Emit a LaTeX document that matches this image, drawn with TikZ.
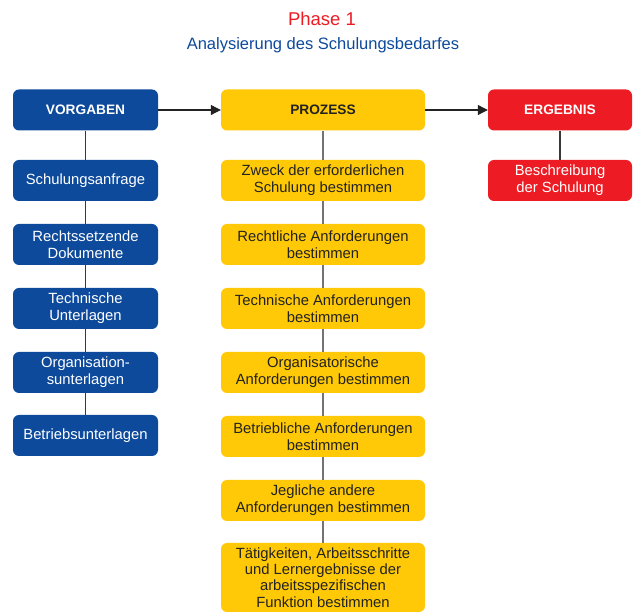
\documentclass[tikz,border=0pt]{standalone}
\usepackage{fontspec}
\setmainfont{Liberation Sans}
\usetikzlibrary{arrows.meta}
\definecolor{vblue}{HTML}{0D4A9C}
\definecolor{vyellow}{HTML}{FFC907}
\definecolor{vred}{HTML}{ED1C24}
\definecolor{vdark}{HTML}{222222}
\begin{document}
\begin{tikzpicture}[x=1pt,y=-1pt,
  box/.style={rounded corners=6pt, inner sep=0pt, align=center, minimum height=41pt,
    font=\fontsize{14.8}{17}\selectfont},
  bluebox/.style={box, fill=vblue, text=white, minimum width=145pt},
  yelbox/.style={box, fill=vyellow, text=vdark, minimum width=204pt},
  redbox/.style={box, fill=vred, text=white, minimum width=144pt},
  head/.style={font=\fontsize{13.7}{16}\selectfont\bfseries},
  link/.style={draw=vdark!90, line width=1.1pt},
  glink/.style={draw=black!55, line width=1.2pt},
  flow/.style={draw=vdark, line width=1.1pt, -{Triangle[length=10pt,width=10pt]}}
]
\path[use as bounding box, clip] (0,0) rectangle (633,612);
\fill[white] (0,0) rectangle (633,612);

\node[text=vred, font=\fontsize{18.5}{22}\selectfont] (t1) at (322,19) {Phase 1};
\node[text=vblue, font=\fontsize{16.5}{19}\selectfont] (t2) at (323,45) {Analysierung des Schulungsbedarfes};

% left column
\node[bluebox, head] (v0) at (85.5,110) {VORGABEN};
\node[bluebox] (v1) at (85.5,180.5) {Schulungsanfrage};
\node[bluebox] (v2) at (85.5,244.5) {Rechtssetzende\\Dokumente};
\node[bluebox] (v3) at (85.5,308.5) {Technische\\Unterlagen};
\node[bluebox] (v4) at (85.5,372.5) {Organisation-\\sunterlagen};
\node[bluebox] (v5) at (85.5,435.5) {Betriebsunterlagen};

% middle column
\node[yelbox, head] (p0) at (323,110) {PROZESS};
\node[yelbox] (p1) at (323,180.5) {Zweck der erforderlichen\\Schulung bestimmen};
\node[yelbox] (p2) at (323,244.5) {Rechtliche Anforderungen\\bestimmen};
\node[yelbox] (p3) at (323,308.5) {Technische Anforderungen\\bestimmen};
\node[yelbox] (p4) at (323,372.5) {Organisatorische\\Anforderungen bestimmen};
\node[yelbox] (p5) at (323,436.5) {Betriebliche Anforderungen\\bestimmen};
\node[yelbox] (p6) at (323,500.5) {Jegliche andere\\Anforderungen bestimmen};
\node[yelbox, minimum height=69pt, font=\fontsize{14.8}{16.3}\selectfont] (p7) at (323,577.5) {Tätigkeiten, Arbeitsschritte\\und Lernergebnisse der\\arbeitsspezifischen\\Funktion bestimmen};

% right column
\node[redbox, head] (e0) at (560,110) {ERGEBNIS};
\node[redbox] (e1) at (560,180.5) {Beschreibung\\der Schulung};

% connectors
\foreach \a/\b in {v0/v1,v1/v2,v2/v3,v3/v4,v4/v5,e0/e1}
  \draw[link] (\a.south) -- (\b.north);
\foreach \a/\b in {p0/p1,p1/p2,p2/p3,p3/p4,p4/p5,p5/p6,p6/p7}
  \draw[glink] (\a.south) -- (\b.north);
\draw[flow] (v0.east) -- (p0.west);
\draw[flow] (p0.east) -- (e0.west);
\end{tikzpicture}
\end{document}
